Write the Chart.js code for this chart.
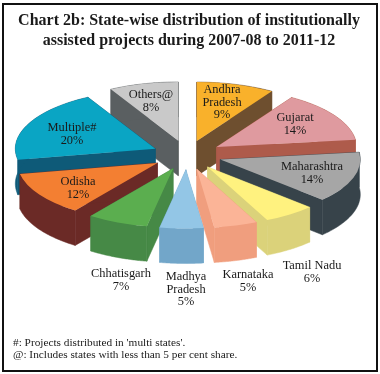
<!DOCTYPE html>
<html>
<head>
<meta charset="utf-8">
<style>
  html, body { margin: 0; padding: 0; background: #fff; }
  canvas { position: absolute; left: 0; top: 0; }
  #frame { position: absolute; left: 2px; top: 3px; width: 372px; height: 365px; border: 2px solid #111; }
</style>
<script src="https://cdn.jsdelivr.net/npm/chart.js@4"></script>
</head>
<body>
<canvas id="pieChart" width="380" height="374"></canvas>
<div id="frame"></div>
<script>
const titleLines = [
  "Chart 2b: State-wise distribution of institutionally",
  "assisted projects during 2007-08 to 2011-12",
];
const footnotes = [
  "#: Projects distributed in 'multi states'.",
  "@: Includes states with less than 5 per cent share.",
];
const categories = [
  "Andhra Pradesh", "Gujarat", "Maharashtra", "Tamil Nadu", "Karnataka",
  "Madhya Pradesh", "Chhatisgarh", "Odisha", "Multiple#", "Others@",
];
const shares = [9, 14, 14, 6, 5, 5, 7, 12, 20, 8];
const topColors = [
  "#f9b12b", "#df9a9f", "#a6a6a6", "#fff27f", "#fbb497",
  "#93c6e6", "#5bae4f", "#f37f32", "#0aa5c4", "#c9c9c9",
];
const wallColors = [
  "#6e4f2f", "#ae5b4b", "#37434a", "#dbd27a", "#f09e7e",
  "#72a6c9", "#468946", "#6b2a26", "#0e5a78", "#5a5f61",
];
// wrapped text and centre of each slice label
const labelLines = [
  ["Andhra", "Pradesh"], ["Gujarat"], ["Maharashtra"], ["Tamil Nadu"], ["Karnataka"],
  ["Madhya", "Pradesh"], ["Chhatisgarh"], ["Odisha"], ["Multiple#"], ["Others@"],
];
const labelCenters = [
  [222, 90], [295, 118], [312, 167], [312, 266], [248, 275],
  [186, 277], [121, 274], [78, 182], [72, 128], [151, 95],
];

const pieCenterY = 155;
const squash = 0.42;
const explode = 35;
const depth = 35;

function toScreenY(y, cy) {
  return pieCenterY + (y - cy) * squash;
}

const pie3d = {
  id: "pie3d",
  // push every slice out from the centre
  afterDatasetUpdate(chart) {
    chart.getDatasetMeta(0).data.forEach((arc) => {
      const mid = (arc.startAngle + arc.endAngle) / 2;
      arc.chartY = arc.y;
      arc.x += Math.cos(mid) * explode;
      arc.y += Math.sin(mid) * explode;
    });
  },
  beforeDatasetsDraw(chart) {
    const ctx = chart.ctx;
    const arcs = chart.getDatasetMeta(0).data;
    const cy = arcs[0].chartY;
    // back slices first
    const order = arcs
      .map((arc, i) => i)
      .sort((a, b) => arcs[a].y - arcs[b].y);

    order.forEach((i) => {
      const arc = arcs[i];
      const ax = arc.x;
      const ay = toScreenY(arc.y, cy);
      const r = arc.outerRadius;
      const rimX = (t) => ax + r * Math.cos(t);
      const rimY = (t) => ay + r * Math.sin(t) * squash;
      ctx.fillStyle = wallColors[i];
      ctx.strokeStyle = wallColors[i];
      ctx.lineWidth = 0.5;

      [arc.startAngle, arc.endAngle].forEach((t) => {
        ctx.beginPath();
        ctx.moveTo(ax, ay);
        ctx.lineTo(rimX(t), rimY(t));
        ctx.lineTo(rimX(t), rimY(t) + depth);
        ctx.lineTo(ax, ay + depth);
        ctx.closePath();
        ctx.fill();
        ctx.stroke();
      });

      ctx.beginPath();
      const steps = 40;
      for (let s = 0; s <= steps; s++) {
        const t = arc.startAngle + ((arc.endAngle - arc.startAngle) * s) / steps;
        ctx.lineTo(rimX(t), rimY(t));
      }
      for (let s = steps; s >= 0; s--) {
        const t = arc.startAngle + ((arc.endAngle - arc.startAngle) * s) / steps;
        ctx.lineTo(rimX(t), rimY(t) + depth);
      }
      ctx.closePath();
      ctx.fill();
      ctx.stroke();
    });

    // the library's arcs become the flat top faces
    ctx.save();
    ctx.translate(0, pieCenterY);
    ctx.scale(1, squash);
    ctx.translate(0, -cy);
  },
  afterDatasetsDraw(chart) {
    const ctx = chart.ctx;
    ctx.restore();

    ctx.save();
    ctx.textAlign = "center";
    ctx.textBaseline = "middle";
    ctx.fillStyle = "#1a1a1a";
    ctx.font = "bold 16px 'Liberation Serif'";
    titleLines.forEach((line, i) => ctx.fillText(line, 189, 21 + i * 20));

    ctx.font = "12.4px 'Liberation Serif'";
    shares.forEach((share, i) => {
      const lines = labelLines[i].concat(share + "%");
      const [x, y] = labelCenters[i];
      lines.forEach((line, n) => ctx.fillText(line, x, y + n * 12.6));
    });

    ctx.textAlign = "left";
    ctx.font = "11.3px 'Liberation Serif'";
    footnotes.forEach((line, i) => ctx.fillText(line, 13, 343 + i * 12.5));
    ctx.restore();
  },
};

new Chart(document.getElementById("pieChart"), {
  type: "pie",
  data: {
    labels: categories,
    datasets: [
      {
        data: shares,
        backgroundColor: topColors,
        borderWidth: 0,
        radius: 140,
        clip: false,
      },
    ],
  },
  options: {
    responsive: false,
    animation: false,
    layout: { padding: { left: 12, right: 18, top: 12, bottom: 12 } },
    plugins: {
      legend: { display: false },
      tooltip: { enabled: false },
    },
  },
  plugins: [pie3d],
});
</script>
</body>
</html>
